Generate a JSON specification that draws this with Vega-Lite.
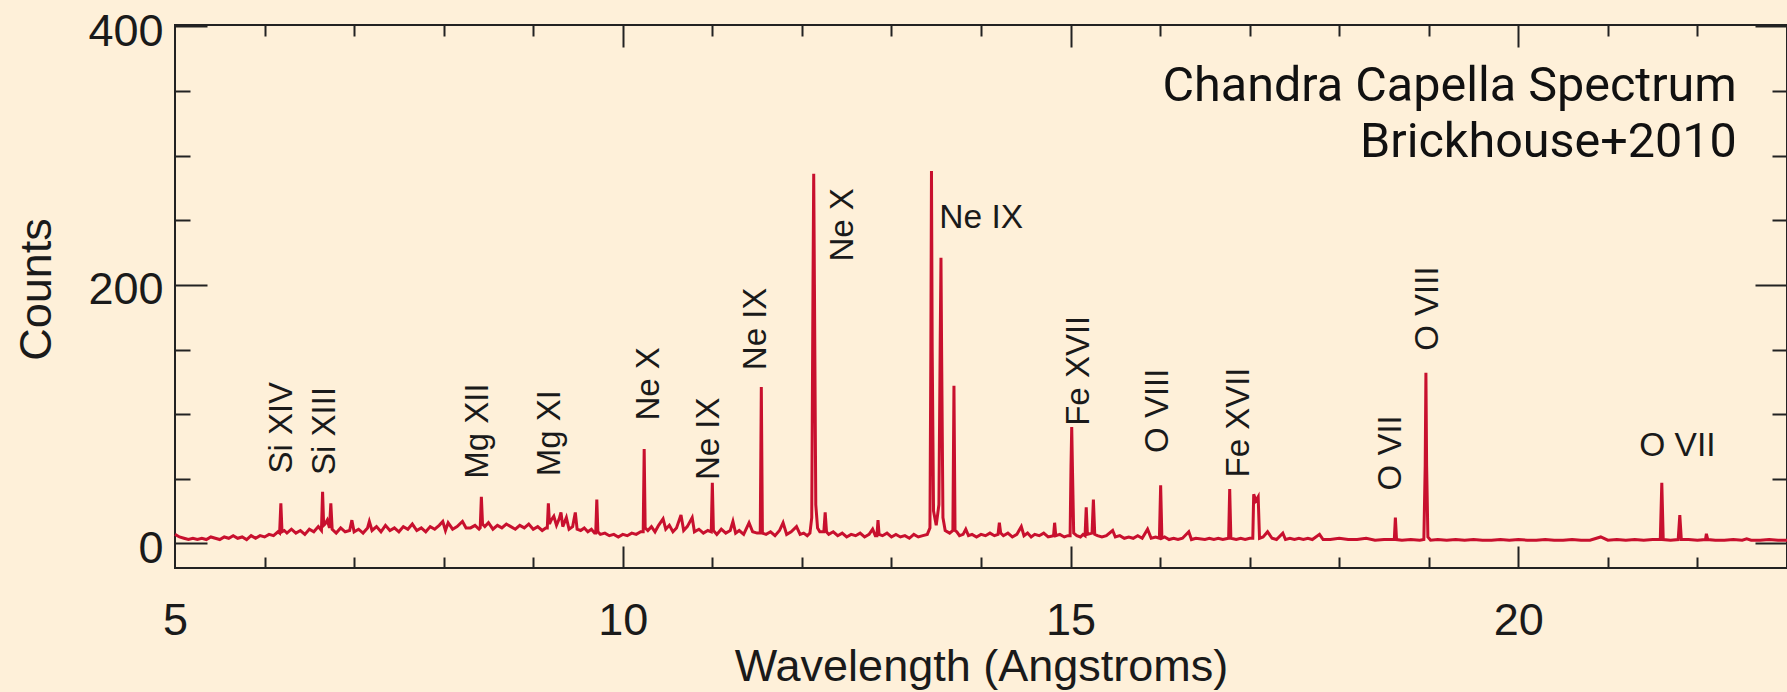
{
  "$schema": "https://vega.github.io/schema/vega-lite/v6.json",
  "width": 1612,
  "height": 543,
  "autosize": {"type": "none"},
  "padding": {"left": 175, "top": 25, "right": 0, "bottom": 124},
  "background": "#fef0d9",
  "config": {
    "view": {"stroke": "#222222", "strokeWidth": 2},
    "axis": {
      "grid": false,
      "domain": false,
      "tickColor": "#222222",
      "tickWidth": 2,
      "labelFont": "Liberation Sans",
      "labelFontSize": 45,
      "labelColor": "#1a1a1a",
      "titleFont": "Liberation Sans",
      "titleFontSize": 45,
      "titleFontWeight": "normal",
      "titleColor": "#1a1a1a"
    }
  },
  "datasets": {
    "spectrum": [
      {"wavelength": 5.00, "counts": 7}, {"wavelength": 5.05, "counts": 5}, {"wavelength": 5.10, "counts": 4}, {"wavelength": 5.15, "counts": 3},
      {"wavelength": 5.20, "counts": 4}, {"wavelength": 5.25, "counts": 3}, {"wavelength": 5.30, "counts": 4}, {"wavelength": 5.35, "counts": 3},
      {"wavelength": 5.40, "counts": 5}, {"wavelength": 5.45, "counts": 4}, {"wavelength": 5.50, "counts": 3}, {"wavelength": 5.55, "counts": 5},
      {"wavelength": 5.60, "counts": 4}, {"wavelength": 5.65, "counts": 6}, {"wavelength": 5.70, "counts": 4}, {"wavelength": 5.75, "counts": 5},
      {"wavelength": 5.80, "counts": 3}, {"wavelength": 5.85, "counts": 6}, {"wavelength": 5.90, "counts": 4}, {"wavelength": 5.95, "counts": 6},
      {"wavelength": 6.00, "counts": 5}, {"wavelength": 6.05, "counts": 7}, {"wavelength": 6.10, "counts": 6}, {"wavelength": 6.15, "counts": 9},
      {"wavelength": 6.168, "counts": 8}, {"wavelength": 6.182, "counts": 31}, {"wavelength": 6.195, "counts": 9}, {"wavelength": 6.22, "counts": 10},
      {"wavelength": 6.25, "counts": 8}, {"wavelength": 6.30, "counts": 11}, {"wavelength": 6.35, "counts": 8}, {"wavelength": 6.40, "counts": 10},
      {"wavelength": 6.45, "counts": 7}, {"wavelength": 6.50, "counts": 11}, {"wavelength": 6.55, "counts": 9}, {"wavelength": 6.60, "counts": 13},
      {"wavelength": 6.635, "counts": 10}, {"wavelength": 6.648, "counts": 40}, {"wavelength": 6.66, "counts": 14}, {"wavelength": 6.675, "counts": 15},
      {"wavelength": 6.70, "counts": 18}, {"wavelength": 6.725, "counts": 12}, {"wavelength": 6.74, "counts": 31}, {"wavelength": 6.755, "counts": 11},
      {"wavelength": 6.80, "counts": 8}, {"wavelength": 6.85, "counts": 12}, {"wavelength": 6.90, "counts": 9}, {"wavelength": 6.95, "counts": 10},
      {"wavelength": 6.975, "counts": 18}, {"wavelength": 7.00, "counts": 9}, {"wavelength": 7.05, "counts": 11}, {"wavelength": 7.10, "counts": 8},
      {"wavelength": 7.15, "counts": 12}, {"wavelength": 7.17, "counts": 17}, {"wavelength": 7.20, "counts": 10}, {"wavelength": 7.25, "counts": 13},
      {"wavelength": 7.30, "counts": 9}, {"wavelength": 7.35, "counts": 14}, {"wavelength": 7.40, "counts": 10}, {"wavelength": 7.45, "counts": 12},
      {"wavelength": 7.50, "counts": 9}, {"wavelength": 7.55, "counts": 13}, {"wavelength": 7.60, "counts": 11}, {"wavelength": 7.65, "counts": 15},
      {"wavelength": 7.70, "counts": 10}, {"wavelength": 7.75, "counts": 12}, {"wavelength": 7.80, "counts": 9}, {"wavelength": 7.85, "counts": 13},
      {"wavelength": 7.90, "counts": 11}, {"wavelength": 7.95, "counts": 14}, {"wavelength": 7.99, "counts": 17}, {"wavelength": 8.02, "counts": 10},
      {"wavelength": 8.05, "counts": 16}, {"wavelength": 8.10, "counts": 11}, {"wavelength": 8.15, "counts": 13}, {"wavelength": 8.21, "counts": 17},
      {"wavelength": 8.25, "counts": 12}, {"wavelength": 8.30, "counts": 12}, {"wavelength": 8.35, "counts": 14}, {"wavelength": 8.395, "counts": 11},
      {"wavelength": 8.408, "counts": 12}, {"wavelength": 8.421, "counts": 36}, {"wavelength": 8.434, "counts": 15}, {"wavelength": 8.46, "counts": 13},
      {"wavelength": 8.50, "counts": 16}, {"wavelength": 8.55, "counts": 11}, {"wavelength": 8.60, "counts": 14}, {"wavelength": 8.65, "counts": 12},
      {"wavelength": 8.70, "counts": 15}, {"wavelength": 8.75, "counts": 13}, {"wavelength": 8.80, "counts": 11}, {"wavelength": 8.85, "counts": 14},
      {"wavelength": 8.90, "counts": 12}, {"wavelength": 8.95, "counts": 15}, {"wavelength": 9.00, "counts": 11}, {"wavelength": 9.05, "counts": 13},
      {"wavelength": 9.10, "counts": 10}, {"wavelength": 9.14, "counts": 12}, {"wavelength": 9.157, "counts": 12}, {"wavelength": 9.169, "counts": 31},
      {"wavelength": 9.182, "counts": 15}, {"wavelength": 9.20, "counts": 18}, {"wavelength": 9.23, "counts": 21}, {"wavelength": 9.26, "counts": 14},
      {"wavelength": 9.29, "counts": 19}, {"wavelength": 9.31, "counts": 24}, {"wavelength": 9.33, "counts": 13}, {"wavelength": 9.37, "counts": 20},
      {"wavelength": 9.40, "counts": 11}, {"wavelength": 9.44, "counts": 13}, {"wavelength": 9.47, "counts": 24}, {"wavelength": 9.49, "counts": 11},
      {"wavelength": 9.53, "counts": 10}, {"wavelength": 9.57, "counts": 12}, {"wavelength": 9.61, "counts": 9}, {"wavelength": 9.65, "counts": 11},
      {"wavelength": 9.685, "counts": 8}, {"wavelength": 9.698, "counts": 8}, {"wavelength": 9.71, "counts": 34}, {"wavelength": 9.722, "counts": 9},
      {"wavelength": 9.75, "counts": 7}, {"wavelength": 9.80, "counts": 8}, {"wavelength": 9.85, "counts": 6}, {"wavelength": 9.90, "counts": 7},
      {"wavelength": 9.95, "counts": 5}, {"wavelength": 10.00, "counts": 7}, {"wavelength": 10.05, "counts": 6}, {"wavelength": 10.10, "counts": 8},
      {"wavelength": 10.15, "counts": 7}, {"wavelength": 10.20, "counts": 9}, {"wavelength": 10.228, "counts": 9}, {"wavelength": 10.239, "counts": 73},
      {"wavelength": 10.25, "counts": 12}, {"wavelength": 10.28, "counts": 10}, {"wavelength": 10.32, "counts": 13}, {"wavelength": 10.36, "counts": 9},
      {"wavelength": 10.40, "counts": 14}, {"wavelength": 10.45, "counts": 19}, {"wavelength": 10.48, "counts": 11}, {"wavelength": 10.52, "counts": 14},
      {"wavelength": 10.56, "counts": 9}, {"wavelength": 10.60, "counts": 12}, {"wavelength": 10.65, "counts": 22}, {"wavelength": 10.68, "counts": 10},
      {"wavelength": 10.72, "counts": 13}, {"wavelength": 10.775, "counts": 20}, {"wavelength": 10.80, "counts": 9}, {"wavelength": 10.85, "counts": 11},
      {"wavelength": 10.90, "counts": 8}, {"wavelength": 10.95, "counts": 10}, {"wavelength": 10.988, "counts": 9}, {"wavelength": 11.00, "counts": 47},
      {"wavelength": 11.012, "counts": 10}, {"wavelength": 11.05, "counts": 7}, {"wavelength": 11.10, "counts": 11}, {"wavelength": 11.15, "counts": 8},
      {"wavelength": 11.20, "counts": 10}, {"wavelength": 11.23, "counts": 17}, {"wavelength": 11.26, "counts": 8}, {"wavelength": 11.30, "counts": 10},
      {"wavelength": 11.35, "counts": 7}, {"wavelength": 11.41, "counts": 16}, {"wavelength": 11.45, "counts": 9}, {"wavelength": 11.50, "counts": 8},
      {"wavelength": 11.535, "counts": 8}, {"wavelength": 11.547, "counts": 121}, {"wavelength": 11.559, "counts": 8}, {"wavelength": 11.60, "counts": 7},
      {"wavelength": 11.65, "counts": 9}, {"wavelength": 11.70, "counts": 6}, {"wavelength": 11.75, "counts": 10}, {"wavelength": 11.79, "counts": 16},
      {"wavelength": 11.83, "counts": 7}, {"wavelength": 11.88, "counts": 9}, {"wavelength": 11.94, "counts": 13}, {"wavelength": 11.98, "counts": 7},
      {"wavelength": 12.02, "counts": 8}, {"wavelength": 12.06, "counts": 6}, {"wavelength": 12.09, "counts": 8}, {"wavelength": 12.11, "counts": 20},
      {"wavelength": 12.124, "counts": 200}, {"wavelength": 12.132, "counts": 286}, {"wavelength": 12.14, "counts": 200}, {"wavelength": 12.155, "counts": 30},
      {"wavelength": 12.175, "counts": 12}, {"wavelength": 12.20, "counts": 9}, {"wavelength": 12.245, "counts": 9}, {"wavelength": 12.26, "counts": 24},
      {"wavelength": 12.275, "counts": 9}, {"wavelength": 12.30, "counts": 7}, {"wavelength": 12.35, "counts": 9}, {"wavelength": 12.40, "counts": 6},
      {"wavelength": 12.45, "counts": 8}, {"wavelength": 12.50, "counts": 5}, {"wavelength": 12.55, "counts": 7}, {"wavelength": 12.60, "counts": 6},
      {"wavelength": 12.65, "counts": 8}, {"wavelength": 12.70, "counts": 5}, {"wavelength": 12.75, "counts": 7}, {"wavelength": 12.79, "counts": 11},
      {"wavelength": 12.82, "counts": 6}, {"wavelength": 12.838, "counts": 6}, {"wavelength": 12.85, "counts": 18}, {"wavelength": 12.862, "counts": 7},
      {"wavelength": 12.90, "counts": 6}, {"wavelength": 12.95, "counts": 8}, {"wavelength": 13.00, "counts": 5}, {"wavelength": 13.05, "counts": 7},
      {"wavelength": 13.10, "counts": 5}, {"wavelength": 13.15, "counts": 6}, {"wavelength": 13.20, "counts": 4}, {"wavelength": 13.25, "counts": 7},
      {"wavelength": 13.30, "counts": 5}, {"wavelength": 13.35, "counts": 6}, {"wavelength": 13.40, "counts": 7}, {"wavelength": 13.43, "counts": 12},
      {"wavelength": 13.44, "counts": 150}, {"wavelength": 13.447, "counts": 288}, {"wavelength": 13.455, "counts": 150}, {"wavelength": 13.47, "counts": 25},
      {"wavelength": 13.50, "counts": 14}, {"wavelength": 13.53, "counts": 30}, {"wavelength": 13.545, "counts": 160}, {"wavelength": 13.553, "counts": 221},
      {"wavelength": 13.56, "counts": 150}, {"wavelength": 13.575, "counts": 20}, {"wavelength": 13.60, "counts": 10}, {"wavelength": 13.65, "counts": 8},
      {"wavelength": 13.686, "counts": 10}, {"wavelength": 13.698, "counts": 122}, {"wavelength": 13.71, "counts": 10}, {"wavelength": 13.73, "counts": 9},
      {"wavelength": 13.76, "counts": 6}, {"wavelength": 13.80, "counts": 7}, {"wavelength": 13.83, "counts": 11}, {"wavelength": 13.86, "counts": 6},
      {"wavelength": 13.90, "counts": 7}, {"wavelength": 13.95, "counts": 5}, {"wavelength": 14.00, "counts": 7}, {"wavelength": 14.05, "counts": 6},
      {"wavelength": 14.10, "counts": 8}, {"wavelength": 14.15, "counts": 6}, {"wavelength": 14.19, "counts": 7}, {"wavelength": 14.205, "counts": 16},
      {"wavelength": 14.22, "counts": 8}, {"wavelength": 14.25, "counts": 6}, {"wavelength": 14.30, "counts": 8}, {"wavelength": 14.35, "counts": 5},
      {"wavelength": 14.40, "counts": 7}, {"wavelength": 14.45, "counts": 13}, {"wavelength": 14.48, "counts": 6}, {"wavelength": 14.52, "counts": 8},
      {"wavelength": 14.56, "counts": 5}, {"wavelength": 14.60, "counts": 7}, {"wavelength": 14.65, "counts": 6}, {"wavelength": 14.70, "counts": 8},
      {"wavelength": 14.75, "counts": 5}, {"wavelength": 14.81, "counts": 6}, {"wavelength": 14.822, "counts": 16}, {"wavelength": 14.835, "counts": 6},
      {"wavelength": 14.88, "counts": 7}, {"wavelength": 14.93, "counts": 5}, {"wavelength": 14.97, "counts": 6}, {"wavelength": 14.995, "counts": 6},
      {"wavelength": 15.005, "counts": 60}, {"wavelength": 15.013, "counts": 90}, {"wavelength": 15.022, "counts": 55}, {"wavelength": 15.035, "counts": 8},
      {"wavelength": 15.07, "counts": 6}, {"wavelength": 15.11, "counts": 5}, {"wavelength": 15.14, "counts": 7}, {"wavelength": 15.162, "counts": 6},
      {"wavelength": 15.175, "counts": 28}, {"wavelength": 15.188, "counts": 7}, {"wavelength": 15.24, "counts": 8}, {"wavelength": 15.255, "counts": 34},
      {"wavelength": 15.27, "counts": 7}, {"wavelength": 15.30, "counts": 6}, {"wavelength": 15.35, "counts": 5}, {"wavelength": 15.40, "counts": 6},
      {"wavelength": 15.47, "counts": 10}, {"wavelength": 15.50, "counts": 5}, {"wavelength": 15.55, "counts": 6}, {"wavelength": 15.60, "counts": 4},
      {"wavelength": 15.65, "counts": 5}, {"wavelength": 15.70, "counts": 4}, {"wavelength": 15.75, "counts": 6}, {"wavelength": 15.80, "counts": 4},
      {"wavelength": 15.86, "counts": 11}, {"wavelength": 15.90, "counts": 4}, {"wavelength": 15.95, "counts": 5}, {"wavelength": 15.992, "counts": 4},
      {"wavelength": 16.006, "counts": 45}, {"wavelength": 16.02, "counts": 4}, {"wavelength": 16.05, "counts": 5}, {"wavelength": 16.10, "counts": 3},
      {"wavelength": 16.15, "counts": 4}, {"wavelength": 16.20, "counts": 3}, {"wavelength": 16.25, "counts": 4}, {"wavelength": 16.32, "counts": 9},
      {"wavelength": 16.35, "counts": 3}, {"wavelength": 16.40, "counts": 4}, {"wavelength": 16.50, "counts": 3}, {"wavelength": 16.55, "counts": 4},
      {"wavelength": 16.60, "counts": 3}, {"wavelength": 16.65, "counts": 4}, {"wavelength": 16.70, "counts": 3}, {"wavelength": 16.765, "counts": 4},
      {"wavelength": 16.777, "counts": 42}, {"wavelength": 16.79, "counts": 4}, {"wavelength": 16.85, "counts": 3}, {"wavelength": 16.90, "counts": 4},
      {"wavelength": 16.95, "counts": 3}, {"wavelength": 17.00, "counts": 4}, {"wavelength": 17.035, "counts": 4}, {"wavelength": 17.045, "counts": 38},
      {"wavelength": 17.07, "counts": 33}, {"wavelength": 17.095, "counts": 36}, {"wavelength": 17.11, "counts": 4}, {"wavelength": 17.15, "counts": 5},
      {"wavelength": 17.20, "counts": 9}, {"wavelength": 17.25, "counts": 4}, {"wavelength": 17.30, "counts": 3}, {"wavelength": 17.37, "counts": 8},
      {"wavelength": 17.40, "counts": 3}, {"wavelength": 17.45, "counts": 4}, {"wavelength": 17.50, "counts": 3}, {"wavelength": 17.55, "counts": 4},
      {"wavelength": 17.60, "counts": 3}, {"wavelength": 17.65, "counts": 4}, {"wavelength": 17.70, "counts": 3}, {"wavelength": 17.78, "counts": 7},
      {"wavelength": 17.82, "counts": 3}, {"wavelength": 17.90, "counts": 3}, {"wavelength": 18.00, "counts": 4}, {"wavelength": 18.10, "counts": 3},
      {"wavelength": 18.20, "counts": 3}, {"wavelength": 18.30, "counts": 4}, {"wavelength": 18.40, "counts": 2.5}, {"wavelength": 18.50, "counts": 3},
      {"wavelength": 18.60, "counts": 3}, {"wavelength": 18.615, "counts": 3}, {"wavelength": 18.627, "counts": 20}, {"wavelength": 18.64, "counts": 3},
      {"wavelength": 18.70, "counts": 2.5}, {"wavelength": 18.80, "counts": 3}, {"wavelength": 18.90, "counts": 2.5}, {"wavelength": 18.945, "counts": 3},
      {"wavelength": 18.96, "counts": 60}, {"wavelength": 18.968, "counts": 132}, {"wavelength": 18.976, "counts": 60}, {"wavelength": 18.99, "counts": 5},
      {"wavelength": 19.02, "counts": 2.5}, {"wavelength": 19.10, "counts": 3}, {"wavelength": 19.20, "counts": 2.5}, {"wavelength": 19.30, "counts": 3},
      {"wavelength": 19.40, "counts": 2.5}, {"wavelength": 19.50, "counts": 3}, {"wavelength": 19.60, "counts": 2.5}, {"wavelength": 19.70, "counts": 2.5},
      {"wavelength": 19.80, "counts": 3}, {"wavelength": 19.90, "counts": 2.5}, {"wavelength": 20.00, "counts": 3}, {"wavelength": 20.10, "counts": 2.5},
      {"wavelength": 20.20, "counts": 2.5}, {"wavelength": 20.30, "counts": 3}, {"wavelength": 20.40, "counts": 2.5}, {"wavelength": 20.50, "counts": 2.5},
      {"wavelength": 20.60, "counts": 3}, {"wavelength": 20.70, "counts": 2.5}, {"wavelength": 20.80, "counts": 2.5}, {"wavelength": 20.92, "counts": 5},
      {"wavelength": 21.00, "counts": 2.5}, {"wavelength": 21.10, "counts": 3}, {"wavelength": 21.20, "counts": 2.5}, {"wavelength": 21.30, "counts": 3},
      {"wavelength": 21.40, "counts": 2.5}, {"wavelength": 21.50, "counts": 3}, {"wavelength": 21.585, "counts": 3}, {"wavelength": 21.602, "counts": 47},
      {"wavelength": 21.618, "counts": 3}, {"wavelength": 21.70, "counts": 2.5}, {"wavelength": 21.785, "counts": 3}, {"wavelength": 21.803, "counts": 22},
      {"wavelength": 21.82, "counts": 3}, {"wavelength": 21.90, "counts": 3}, {"wavelength": 22.00, "counts": 2.5}, {"wavelength": 22.09, "counts": 3},
      {"wavelength": 22.10, "counts": 7.5}, {"wavelength": 22.115, "counts": 3}, {"wavelength": 22.20, "counts": 2.5}, {"wavelength": 22.30, "counts": 2.5},
      {"wavelength": 22.40, "counts": 3}, {"wavelength": 22.50, "counts": 2.5}, {"wavelength": 22.55, "counts": 3.5}, {"wavelength": 22.60, "counts": 2.5},
      {"wavelength": 22.70, "counts": 2.5}, {"wavelength": 22.80, "counts": 3}, {"wavelength": 22.90, "counts": 2.5}, {"wavelength": 23.00, "counts": 2.5}
    ],
    "vlabels": [
      {"label": "Si XIV", "wavelength": 6.19, "counts": 54},
      {"label": "Si XIII", "wavelength": 6.68, "counts": 53},
      {"label": "Mg XII", "wavelength": 8.38, "counts": 50},
      {"label": "Mg XI", "wavelength": 9.19, "counts": 52},
      {"label": "Ne X", "wavelength": 10.29, "counts": 95},
      {"label": "Ne IX", "wavelength": 10.96, "counts": 49},
      {"label": "Ne IX", "wavelength": 11.49, "counts": 134},
      {"label": "Ne X", "wavelength": 12.46, "counts": 218},
      {"label": "Fe XVII", "wavelength": 15.09, "counts": 91},
      {"label": "O VIII", "wavelength": 15.98, "counts": 70},
      {"label": "Fe XVII", "wavelength": 16.88, "counts": 51},
      {"label": "O VII", "wavelength": 18.58, "counts": 41},
      {"label": "O VIII", "wavelength": 18.99, "counts": 149}
    ],
    "hlabels": [
      {"label": "Ne IX", "wavelength": 13.535, "counts": 243.7},
      {"label": "O VII", "wavelength": 21.35, "counts": 67.3}
    ],
    "notes": [
      {"label": "Chandra Capella Spectrum", "wavelength": 22.44, "counts": 342},
      {"label": "Brickhouse+2010", "wavelength": 22.44, "counts": 299}
    ]
  },
  "layer": [
    {
      "data": {"name": "spectrum"},
      "mark": {"type": "line", "color": "#c8102e", "strokeWidth": 3},
      "encoding": {
        "x": {"field": "wavelength", "type": "quantitative",
          "scale": {"domain": [5, 23], "nice": false, "zero": false},
          "axis": {"orient": "bottom", "values": [5, 10, 15, 20], "ticks": false, "labelPadding": 30, "labelFlush": false, "labelOverlap": false, "title": "Wavelength (Angstroms)", "titlePadding": 1}},
        "y": {"field": "counts", "type": "quantitative",
          "scale": {"domain": [-19, 401], "nice": false, "zero": false},
          "axis": {"orient": "left", "values": [0, 200, 400], "ticks": false, "labelPadding": 12, "labelOffset": 5, "labelFlush": false, "labelOverlap": false, "title": "Counts", "titlePadding": 28, "titleY": 264}}
      }
    },
    {
      "data": {"name": "vlabels"},
      "mark": {"type": "text", "angle": 270, "align": "left", "baseline": "middle", "font": "Liberation Sans", "fontSize": 33, "color": "#1a1a1a"},
      "encoding": {
        "x": {"field": "wavelength", "type": "quantitative",
          "scale": {"domain": [5, 23], "nice": false, "zero": false},
          "axis": {"orient": "bottom", "values": [10, 15, 20], "tickSize": -22, "labels": false, "title": null}},
        "y": {"field": "counts", "type": "quantitative",
          "scale": {"domain": [-19, 401], "nice": false, "zero": false},
          "axis": {"orient": "left", "values": [0, 200, 400], "tickSize": -32, "labels": false, "title": null}},
        "text": {"field": "label"}
      }
    },
    {
      "data": {"name": "hlabels"},
      "mark": {"type": "text", "align": "left", "baseline": "alphabetic", "font": "Liberation Sans", "fontSize": 33.5, "color": "#1a1a1a"},
      "encoding": {
        "x": {"field": "wavelength", "type": "quantitative",
          "scale": {"domain": [5, 23], "nice": false, "zero": false},
          "axis": {"orient": "bottom", "values": [6, 7, 8, 9, 11, 12, 13, 14, 16, 17, 18, 19, 21, 22], "tickSize": -11, "labels": false, "title": null}},
        "y": {"field": "counts", "type": "quantitative",
          "scale": {"domain": [-19, 401], "nice": false, "zero": false},
          "axis": {"orient": "left", "values": [50, 100, 150, 250, 300, 350], "tickSize": -15, "labels": false, "title": null}},
        "text": {"field": "label"}
      }
    },
    {
      "data": {"name": "notes"},
      "transform": [{"filter": {"field": "label", "equal": "Chandra Capella Spectrum"}}],
      "mark": {"type": "text", "align": "right", "baseline": "alphabetic", "font": "Roboto", "fontSize": 48.5, "color": "#111111"},
      "encoding": {
        "x": {"field": "wavelength", "type": "quantitative",
          "scale": {"domain": [5, 23], "nice": false, "zero": false},
          "axis": {"orient": "top", "values": [10, 15, 20], "tickSize": -22, "labels": false, "title": null}},
        "y": {"field": "counts", "type": "quantitative",
          "scale": {"domain": [-19, 401], "nice": false, "zero": false},
          "axis": {"orient": "right", "values": [0, 200, 400], "tickSize": -32, "labels": false, "title": null}},
        "text": {"field": "label"}
      }
    },
    {
      "data": {"name": "notes"},
      "transform": [{"filter": {"field": "label", "equal": "Brickhouse+2010"}}],
      "mark": {"type": "text", "align": "right", "baseline": "alphabetic", "font": "Roboto", "fontSize": 48.5, "color": "#111111"},
      "encoding": {
        "x": {"field": "wavelength", "type": "quantitative",
          "scale": {"domain": [5, 23], "nice": false, "zero": false},
          "axis": {"orient": "top", "values": [6, 7, 8, 9, 11, 12, 13, 14, 16, 17, 18, 19, 21, 22], "tickSize": -11, "labels": false, "title": null}},
        "y": {"field": "counts", "type": "quantitative",
          "scale": {"domain": [-19, 401], "nice": false, "zero": false},
          "axis": {"orient": "right", "values": [50, 100, 150, 250, 300, 350], "tickSize": -15, "labels": false, "title": null}},
        "text": {"field": "label"}
      }
    }
  ],
  "resolve": {"axis": {"x": "independent", "y": "independent"}}
}
